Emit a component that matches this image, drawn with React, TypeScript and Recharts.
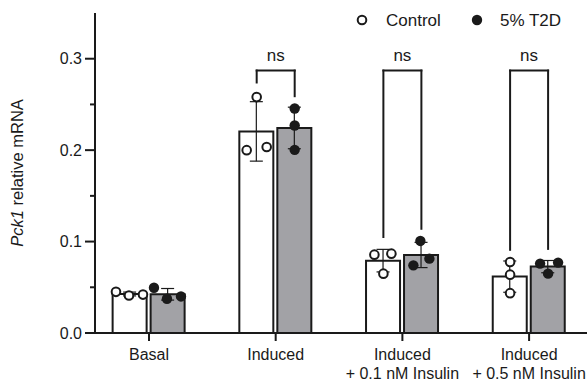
import React from "react";
import {
  ComposedChart,
  Bar,
  Scatter,
  XAxis,
  YAxis,
  ErrorBar,
  ReferenceLine,
  ReferenceDot,
} from "recharts";

const FONT = '"Liberation Sans", Arial, sans-serif';
const INK = "#1a1a1a";
const GREY = "#a2a2a6";

// category labels (one entry per line)
const CATEGORY_LINES = [
  ["Basal"],
  ["Induced"],
  ["Induced", "+ 0.1 nM Insulin"],
  ["Induced", "+ 0.5 nM Insulin"],
];

// individual replicates
const CONTROL = [
  [0.045, 0.041, 0.042],
  [0.258, 0.2, 0.2035],
  [0.0857, 0.0868, 0.0649],
  [0.0776, 0.0638, 0.0436],
];
const T2D = [
  [0.0495, 0.0375, 0.04],
  [0.2455, 0.227, 0.2003],
  [0.1007, 0.074, 0.0813],
  [0.0759, 0.077, 0.0649],
];

const Y_TICKS = [0, 0.05, 0.1, 0.15, 0.2, 0.25, 0.3];
const MAJOR_TICKS = [0, 0.1, 0.2, 0.3];

// significance brackets
const BRACKET_GROUPS = [1, 2, 3];
const BRACKET_LABELS = ["ns", "ns", "ns"];
const BRACKET_TOP = 0.287;
const BRACKET_LEFT_END = [0.274, 0.105, 0.091];
const BRACKET_RIGHT_END = [0.259, 0.114, 0.092];

// layout helpers (pixels -> x units)
const PX_PER_UNIT = 126.7;
const PAIR = 19 / PX_PER_UNIT;
const CONTROL_JITTER = [[-14, -1, 13], [0, -10, 10], [-9, 8, 0], [0, 0, 0]];
const T2D_JITTER = [[-14, -1, 13], [0, 0, 0], [-1, -8, 8], [-8, 10, 0]];
const X_DOMAIN = [-0.426, 3.457];

const mean = (a: number[]) => a.reduce((s, v) => s + v, 0) / a.length;
const sd = (a: number[]) => {
  const m = mean(a);
  return Math.sqrt(a.reduce((s, v) => s + (v - m) ** 2, 0) / (a.length - 1));
};

const barData = CATEGORY_LINES.map((_, i) => ({
  x: i,
  ctrl: mean(CONTROL[i]),
  ctrlSd: sd(CONTROL[i]),
  t2d: mean(T2D[i]),
  t2dSd: sd(T2D[i]),
}));

const ctrlPoints = CONTROL.flatMap((vals, i) =>
  vals.map((v, j) => ({ x: i - PAIR + CONTROL_JITTER[i][j] / PX_PER_UNIT, y: v }))
);
const t2dPoints = T2D.flatMap((vals, i) =>
  vals.map((v, j) => ({ x: i + PAIR + T2D_JITTER[i][j] / PX_PER_UNIT, y: v }))
);

const XTick = (props: any) => {
  const { x, y, payload } = props;
  const lines = CATEGORY_LINES[payload.value] || [];
  return (
    <g>
      {lines.map((t, k) => (
        <text
          key={k}
          x={x}
          y={y + 17 + k * 19}
          textAnchor="middle"
          fontSize={16}
          fontFamily={FONT}
          fill={INK}
        >
          {t}
        </text>
      ))}
    </g>
  );
};

const YTick = (props: any) => {
  const { x, y, payload } = props;
  const major = MAJOR_TICKS.includes(payload.value);
  return (
    <g>
      <line x1={major ? x + 3 : x + 8} x2={x + 13} y1={y} y2={y} stroke={INK} strokeWidth={2} />
      {major && (
        <text x={x} y={y} dy="0.355em" textAnchor="end" fontSize={16} fontFamily={FONT} fill={INK}>
          {payload.value.toFixed(1)}
        </text>
      )}
    </g>
  );
};

const YLabel = (props: any) => {
  const vb = props.viewBox || { x: 0, y: 13, width: 95, height: 320 };
  const cx = vb.x + 23;
  const cy = vb.y + vb.height / 2;
  return (
    <text
      transform={`translate(${cx},${cy}) rotate(-90)`}
      textAnchor="middle"
      fontSize={16.5}
      fontFamily={FONT}
      fill={INK}
    >
      <tspan fontStyle="italic">Pck1</tspan> relative mRNA
    </text>
  );
};

const OpenDot = (p: any) => (
  <circle cx={p.cx} cy={p.cy} r={4.3} fill="#fff" stroke={INK} strokeWidth={2} />
);
const FilledDot = (p: any) => <circle cx={p.cx} cy={p.cy} r={5.2} fill={INK} />;

export default function App() {
  return (
    <div
      style={{
        position: "absolute",
        left: 0,
        top: 0,
        width: 587,
        height: 381,
        background: "#fff",
      }}
    >
      <ComposedChart
        width={587}
        height={381}
        data={barData}
        margin={{ top: 13, right: 0, bottom: 0, left: 0 }}
        barGap={4}
      >
        <XAxis
          dataKey="x"
          type="number"
          domain={X_DOMAIN}
          allowDataOverflow
          ticks={[0, 1, 2, 3]}
          interval={0}
          tick={<XTick />}
          tickSize={8}
          tickMargin={2}
          height={48}
          axisLine={{ stroke: INK, strokeWidth: 2 }}
          tickLine={{ stroke: INK, strokeWidth: 2 }}
        />
        <XAxis xAxisId="pts" dataKey="x" type="number" domain={X_DOMAIN} allowDataOverflow hide />
        <YAxis
          type="number"
          domain={[0, 0.35]}
          allowDataOverflow
          ticks={Y_TICKS}
          interval={0}
          width={95}
          tickSize={10}
          tickMargin={3}
          tickLine={false}
          tick={<YTick />}
          axisLine={{ stroke: INK, strokeWidth: 2 }}
          label={{ content: YLabel }}
        />
        <Bar
          dataKey="ctrl"
          barSize={34}
          fill="#fff"
          stroke={INK}
          strokeWidth={2}
          isAnimationActive={false}
        >
          <ErrorBar dataKey="ctrlSd" width={6.5} stroke={INK} strokeWidth={1.2} />
        </Bar>
        <Bar
          dataKey="t2d"
          barSize={34}
          fill={GREY}
          stroke={INK}
          strokeWidth={2}
          isAnimationActive={false}
        >
          <ErrorBar dataKey="t2dSd" width={6.5} stroke={INK} strokeWidth={1.2} />
        </Bar>
        <Scatter
          xAxisId="pts"
          data={ctrlPoints}
          dataKey="y"
          shape={OpenDot}
          isAnimationActive={false}
        />
        <Scatter
          xAxisId="pts"
          data={t2dPoints}
          dataKey="y"
          shape={FilledDot}
          isAnimationActive={false}
        />
        {BRACKET_GROUPS.map((g, k) => [
          <ReferenceLine
            key={`l${k}`}
            segment={[
              { x: g - PAIR, y: BRACKET_LEFT_END[k] },
              { x: g - PAIR, y: BRACKET_TOP },
            ]}
            stroke={INK}
            strokeWidth={2}
            strokeLinecap="square"
          />,
          <ReferenceLine
            key={`t${k}`}
            segment={[
              { x: g - PAIR, y: BRACKET_TOP },
              { x: g + PAIR, y: BRACKET_TOP },
            ]}
            stroke={INK}
            strokeWidth={2}
            strokeLinecap="square"
          />,
          <ReferenceLine
            key={`r${k}`}
            segment={[
              { x: g + PAIR, y: BRACKET_TOP },
              { x: g + PAIR, y: BRACKET_RIGHT_END[k] },
            ]}
            stroke={INK}
            strokeWidth={2}
            strokeLinecap="square"
          />,
          <ReferenceDot
            key={`d${k}`}
            x={g}
            y={0.304}
            r={0}
            fill="none"
            stroke="none"
            label={{
              value: BRACKET_LABELS[k],
              position: "center",
              fontSize: 17,
              fontFamily: FONT,
              fill: INK,
            }}
          />,
        ])}
      </ComposedChart>
      <svg
        width={587}
        height={40}
        style={{ position: "absolute", left: 0, top: 0, pointerEvents: "none" }}
      >
        <circle cx={362} cy={20} r={4.3} fill="#fff" stroke={INK} strokeWidth={2} />
        <text x={386} y={26} fontSize={17} fontFamily={FONT} fill={INK}>
          Control
        </text>
        <circle cx={477} cy={20} r={5.2} fill={INK} />
        <text x={500} y={26} fontSize={17} fontFamily={FONT} fill={INK}>
          5% T2D
        </text>
      </svg>
    </div>
  );
}
